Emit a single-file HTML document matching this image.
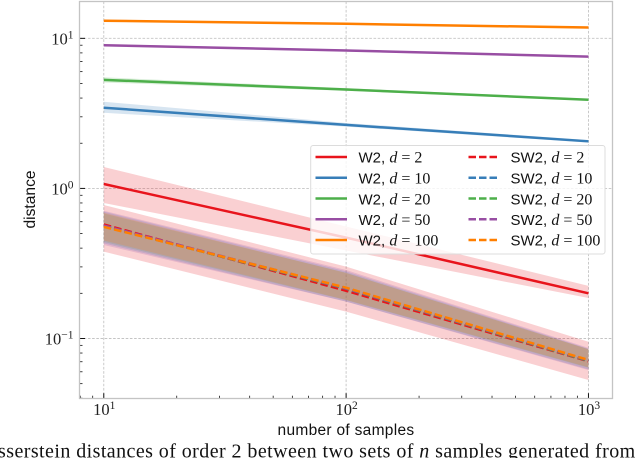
<!DOCTYPE html>
<html lang="en">
<head>
<meta charset="utf-8">
<title>Wasserstein distance chart</title>
<style>
html,body{margin:0;padding:0;background:#fff;}
body{width:640px;height:458px;overflow:hidden;}
svg{display:block;}
.serif{font-family:"Liberation Serif",serif;}
.sans{font-family:"Liberation Sans",sans-serif;}
.legend-text{font-family:"Liberation Sans",sans-serif;font-size:15px;fill:#111;}
.legend-text .m{font-family:"Liberation Serif",serif;font-size:16px;}
.legend-text .i{font-style:italic;}
</style>
</head>
<body>
<svg id="chart" xmlns="http://www.w3.org/2000/svg" width="640" height="458" viewBox="0 0 640 458">
  <g id="grid"></g>
  <g id="bands"></g>
  <g id="lines"></g>
  <g id="ticks"></g>
  <rect x="79.5" y="1.5" width="533" height="397" fill="none" stroke="#c4c4c4" stroke-width="1.3"/>
  <g id="ticklabels"></g>

  <text class="sans" font-size="15.6" fill="#111" text-anchor="middle" transform="translate(35 199.5) rotate(-90)">distance</text>
  <text class="sans" font-size="15.5" letter-spacing="0.3" fill="#111" text-anchor="middle" x="346" y="435">number of samples</text>

  <g>
    <rect x="310.7" y="145.5" width="294.3" height="108.5" rx="2.5" fill="#fff" fill-opacity="0.8" stroke="#dcdcdc" stroke-width="1"/>
    <g fill="none" stroke-width="2.5">
      <line x1="315.5" x2="347" y1="157" y2="157" stroke="#e8141c"/>
      <line x1="315.5" x2="347" y1="177.8" y2="177.8" stroke="#377eb8"/>
      <line x1="315.5" x2="347" y1="198.5" y2="198.5" stroke="#4daf4a"/>
      <line x1="315.5" x2="347" y1="219.3" y2="219.3" stroke="#984ea3"/>
      <line x1="315.5" x2="347" y1="240" y2="240" stroke="#ff7f00"/>
      <g stroke-dasharray="7.5 3">
        <line x1="468.5" x2="499" y1="157" y2="157" stroke="#e8141c"/>
        <line x1="468.5" x2="499" y1="177.8" y2="177.8" stroke="#377eb8"/>
        <line x1="468.5" x2="499" y1="198.5" y2="198.5" stroke="#4daf4a"/>
        <line x1="468.5" x2="499" y1="219.3" y2="219.3" stroke="#984ea3"/>
        <line x1="468.5" x2="499" y1="240" y2="240" stroke="#ff7f00"/>
      </g>
    </g>
    <text class="legend-text" x="358.5" y="162.5">W2, <tspan class="m"><tspan class="i">d</tspan> = 2</tspan></text>
    <text class="legend-text" x="358.5" y="183.5">W2, <tspan class="m"><tspan class="i">d</tspan> = 10</tspan></text>
    <text class="legend-text" x="358.5" y="204.5">W2, <tspan class="m"><tspan class="i">d</tspan> = 20</tspan></text>
    <text class="legend-text" x="358.5" y="225">W2, <tspan class="m"><tspan class="i">d</tspan> = 50</tspan></text>
    <text class="legend-text" x="358.5" y="245.5">W2, <tspan class="m"><tspan class="i">d</tspan> = 100</tspan></text>
    <text class="legend-text" x="510.5" y="162.5">SW2, <tspan class="m"><tspan class="i">d</tspan> = 2</tspan></text>
    <text class="legend-text" x="510.5" y="183.5">SW2, <tspan class="m"><tspan class="i">d</tspan> = 10</tspan></text>
    <text class="legend-text" x="510.5" y="204.5">SW2, <tspan class="m"><tspan class="i">d</tspan> = 20</tspan></text>
    <text class="legend-text" x="510.5" y="225">SW2, <tspan class="m"><tspan class="i">d</tspan> = 50</tspan></text>
    <text class="legend-text" x="510.5" y="245.5">SW2, <tspan class="m"><tspan class="i">d</tspan> = 100</tspan></text>
  </g>

  <text class="serif" font-size="20" letter-spacing="0.43" fill="#111" x="-29" y="457.5">Wasserstein distances of order 2 between two sets of <tspan font-style="italic">n</tspan> samples generated from</text>
</svg>
<script>
// Sample sizes (x values)
const nSamples = [10, 100, 1000];

// W2 means, upper and lower band edges by dimension
const w2d2 = [1.07, 0.47, 0.20];
const w2d2Hi = [1.39, 0.558, 0.224];
const w2d2Lo = [0.80, 0.386, 0.186];
const w2d10 = [3.45, 2.65, 2.06];
const w2d10Hi = [3.78, 2.73, 2.10];
const w2d10Lo = [3.19, 2.58, 2.02];
const w2d20 = [5.29, 4.56, 3.90];
const w2d20Hi = [5.50, 4.66, 3.95];
const w2d20Lo = [5.08, 4.47, 3.85];
const w2d50 = [9.0, 8.3, 7.55];
const w2d50Hi = [9.15, 8.42, 7.65];
const w2d50Lo = [8.85, 8.18, 7.45];
const w2d100 = [13.1, 12.5, 11.8];
const w2d100Hi = [13.25, 12.62, 11.9];
const w2d100Lo = [12.95, 12.38, 11.7];

// SW2 means, upper and lower band edges by dimension
const sw2d2 = [0.575, 0.208, 0.0705];
const sw2d2Hi = [0.776, 0.301, 0.0952];
const sw2d2Lo = [0.379, 0.151, 0.0529];
const sw2d10 = [0.56, 0.215, 0.071];
const sw2d10Hi = [0.70, 0.28, 0.0855];
const sw2d10Lo = [0.43, 0.176, 0.0623];
const sw2d20 = [0.56, 0.215, 0.071];
const sw2d20Hi = [0.68, 0.274, 0.0847];
const sw2d20Lo = [0.44, 0.18, 0.0638];
const sw2d50 = [0.565, 0.216, 0.0715];
const sw2d50Hi = [0.71, 0.286, 0.0866];
const sw2d50Lo = [0.42, 0.176, 0.0615];
const sw2d100 = [0.555, 0.218, 0.0719];
const sw2d100Hi = [0.69, 0.273, 0.0847];
const sw2d100Lo = [0.45, 0.181, 0.0643];

// Series table
const seriesColors = ['#e8141c', '#377eb8', '#4daf4a', '#984ea3', '#ff7f00'];
const seriesDims = [2, 10, 20, 50, 100];
const w2Means = [w2d2, w2d10, w2d20, w2d50, w2d100];
const w2Highs = [w2d2Hi, w2d10Hi, w2d20Hi, w2d50Hi, w2d100Hi];
const w2Lows = [w2d2Lo, w2d10Lo, w2d20Lo, w2d50Lo, w2d100Lo];
const sw2Means = [sw2d2, sw2d10, sw2d20, sw2d50, sw2d100];
const sw2Highs = [sw2d2Hi, sw2d10Hi, sw2d20Hi, sw2d50Hi, sw2d100Hi];
const sw2Lows = [sw2d2Lo, sw2d10Lo, sw2d20Lo, sw2d50Lo, sw2d100Lo];

// Ticks
const xMajorTicks = [10, 100, 1000];
const yMajorTicks = [10, 1, 0.1];
const xTickExponents = ['1', '2', '3'];
const yTickExponents = ['1', '0', '\u22121'];
const minorMultipliers = [2, 3, 4, 5, 6, 7, 8, 9];
const minorDecades = [0.01, 0.1, 1, 10, 100, 1000];

// Axis domains
const xDomain = [7.94, 1259];
const yDomain = [0.0397, 17.6];

const plotLeft = 79.5, plotRight = 612.7, plotTop = 1.5, plotBottom = 398.7;
const NS = 'http://www.w3.org/2000/svg';

function xScale(v) {
  return plotLeft + (Math.log10(v) - Math.log10(xDomain[0])) / (Math.log10(xDomain[1]) - Math.log10(xDomain[0])) * (plotRight - plotLeft);
}
function yScale(v) {
  return plotBottom - (Math.log10(v) - Math.log10(yDomain[0])) / (Math.log10(yDomain[1]) - Math.log10(yDomain[0])) * (plotBottom - plotTop);
}
function make(tag, parent) {
  const el = document.createElementNS(NS, tag);
  parent.appendChild(el);
  return el;
}
function linePath(xs, ys) {
  return xs.map((x, i) => (i ? 'L' : 'M') + xScale(x).toFixed(2) + ' ' + yScale(ys[i]).toFixed(2)).join(' ');
}
function bandPath(xs, hi, lo) {
  const top = xs.map((x, i) => (i ? 'L' : 'M') + xScale(x).toFixed(2) + ' ' + yScale(hi[i]).toFixed(2)).join(' ');
  const bottom = xs.map((x, i) => [x, lo[i]]).reverse().map(p => 'L' + xScale(p[0]).toFixed(2) + ' ' + yScale(p[1]).toFixed(2)).join(' ');
  return top + ' ' + bottom + ' Z';
}

const gridG = document.getElementById('grid');
const bandsG = document.getElementById('bands');
const linesG = document.getElementById('lines');
const ticksG = document.getElementById('ticks');
const labelsG = document.getElementById('ticklabels');

// Grid lines
xMajorTicks.forEach(function (t) {
  const l = make('line', gridG);
  
  
  l.setAttribute('x1', xScale(t));
  l.setAttribute('x2', xScale(t));
  l.setAttribute('y1', plotTop);
  l.setAttribute('y2', plotBottom);
  l.setAttribute('stroke', '#c4c4c4');
  l.setAttribute('stroke-width', '0.9');
  l.setAttribute('stroke-dasharray', '2.6 1.6');
});
yMajorTicks.forEach(function (t) {
  const l = make('line', gridG);
  
  
  l.setAttribute('x1', plotLeft);
  l.setAttribute('x2', plotRight);
  l.setAttribute('y1', yScale(t));
  l.setAttribute('y2', yScale(t));
  l.setAttribute('stroke', '#c4c4c4');
  l.setAttribute('stroke-width', '0.9');
  l.setAttribute('stroke-dasharray', '2.6 1.6');
});

// Bands
w2Means.forEach(function (m, i) {
  const p = make('path', bandsG);
  
  
  p.setAttribute('d', bandPath(nSamples, w2Highs[i], w2Lows[i]));
  p.setAttribute('fill', seriesColors[i]);
  p.setAttribute('fill-opacity', '0.2');
});
sw2Means.forEach(function (m, i) {
  const p = make('path', bandsG);
  
  
  p.setAttribute('d', bandPath(nSamples, sw2Highs[i], sw2Lows[i]));
  p.setAttribute('fill', seriesColors[i]);
  p.setAttribute('fill-opacity', '0.2');
});

// Lines
w2Means.forEach(function (m, i) {
  const p = make('path', linesG);
  
  
  p.setAttribute('d', linePath(nSamples, m));
  p.setAttribute('fill', 'none');
  p.setAttribute('stroke', seriesColors[i]);
  p.setAttribute('stroke-width', '2.5');
});
sw2Means.forEach(function (m, i) {
  const p = make('path', linesG);
  
  
  p.setAttribute('d', linePath(nSamples, m));
  p.setAttribute('fill', 'none');
  p.setAttribute('stroke', seriesColors[i]);
  p.setAttribute('stroke-width', '2.5');
  p.setAttribute('stroke-dasharray', '7.5 3.2');
});

// Major ticks and labels
xMajorTicks.forEach(function (t, i) {
  const l = make('line', ticksG);
  
  
  l.setAttribute('x1', xScale(t));
  l.setAttribute('x2', xScale(t));
  l.setAttribute('y1', plotBottom);
  l.setAttribute('y2', plotBottom - 5.5);
  l.setAttribute('stroke', '#111');
  l.setAttribute('stroke-width', '1');
  const tx = make('text', labelsG);
  
  
  tx.setAttribute('class', 'serif');
  tx.setAttribute('font-size', '16.5');
  tx.setAttribute('fill', '#222');
  tx.setAttribute('text-anchor', 'middle');
  tx.setAttribute('x', xScale(t) + 0.5);
  tx.setAttribute('y', 415);
  tx.textContent = '10';
  const sup = make('tspan', tx);
  sup.setAttribute('font-size', '11.5');
  sup.setAttribute('dy', '-6');
  sup.textContent = xTickExponents[i];
});
yMajorTicks.forEach(function (t, i) {
  const l = make('line', ticksG);
  
  
  l.setAttribute('x1', plotLeft);
  l.setAttribute('x2', plotLeft + 5.5);
  l.setAttribute('y1', yScale(t));
  l.setAttribute('y2', yScale(t));
  l.setAttribute('stroke', '#111');
  l.setAttribute('stroke-width', '1');
  const tx = make('text', labelsG);
  
  
  tx.setAttribute('class', 'serif');
  tx.setAttribute('font-size', '16.5');
  tx.setAttribute('fill', '#222');
  tx.setAttribute('text-anchor', 'end');
  tx.setAttribute('x', 73.5);
  tx.setAttribute('y', yScale(t) + 6);
  tx.textContent = '10';
  const sup = make('tspan', tx);
  sup.setAttribute('font-size', '11.5');
  sup.setAttribute('dy', '-6');
  sup.textContent = yTickExponents[i];
});

// Minor ticks
minorDecades.forEach(function (dec) {
  minorMultipliers.forEach(function (m) {
    const v = dec * m;
    if (v > xDomain[0] && v < xDomain[1]) {
      const l = make('line', ticksG);
      
      
      l.setAttribute('x1', xScale(v));
      l.setAttribute('x2', xScale(v));
      l.setAttribute('y1', plotBottom);
      l.setAttribute('y2', plotBottom - 3);
      l.setAttribute('stroke', '#111');
      l.setAttribute('stroke-width', '0.8');
    }
    if (v > yDomain[0] && v < yDomain[1]) {
      const l = make('line', ticksG);
      
      
      l.setAttribute('x1', plotLeft);
      l.setAttribute('x2', plotLeft + 3);
      l.setAttribute('y1', yScale(v));
      l.setAttribute('y2', yScale(v));
      l.setAttribute('stroke', '#111');
      l.setAttribute('stroke-width', '0.8');
    }
  });
});
</script>
</body>
</html>
